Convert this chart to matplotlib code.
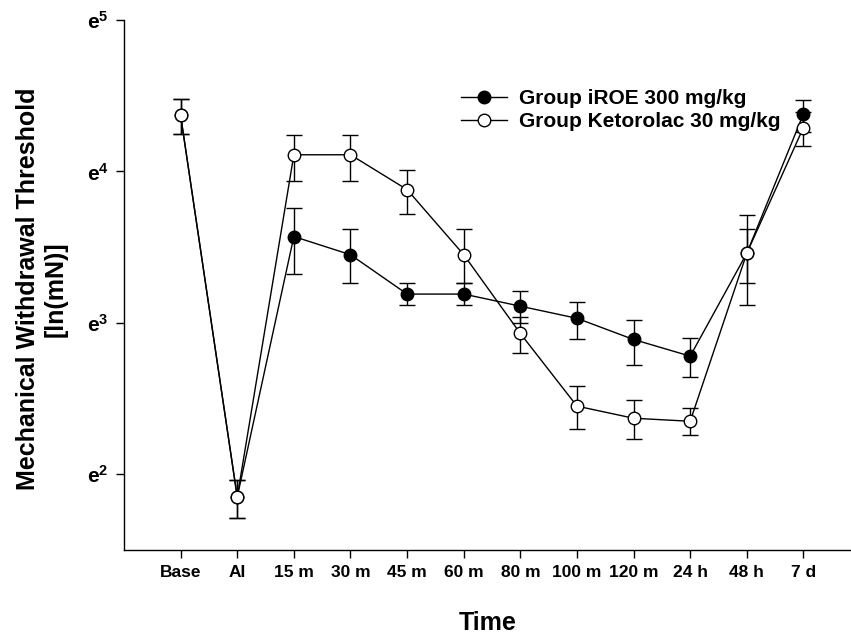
import matplotlib
matplotlib.use("Agg")
import matplotlib.pyplot as plt
import numpy as np

plt.rcParams['font.family'] = 'Liberation Sans'
plt.rcParams['font.weight'] = 'bold'
plt.rcParams['mathtext.fontset'] = 'custom'
plt.rcParams['mathtext.rm'] = 'Liberation Sans:bold'
plt.rcParams['mathtext.bf'] = 'Liberation Sans:bold'

# time points
time_labels = ['Base', 'AI', '15 m', '30 m', '45 m', '60 m', '80 m',
               '100 m', '120 m', '24 h', '48 h', '7 d']
group_names = ['Group iROE 300 mg/kg', 'Group Ketorolac 30 mg/kg']

# values in ln(mN), with upper / lower ends of the error bars
iroe = [4.37, 1.85, 3.57, 3.45, 3.19, 3.19, 3.11, 3.03, 2.89, 2.78, 3.46, 4.38]
iroe_hi = [4.48, 1.96, 3.76, 3.62, 3.26, 3.26, 3.21, 3.14, 3.02, 2.90, 3.71, 4.47]
iroe_lo = [4.25, 1.71, 3.32, 3.26, 3.12, 3.12, 3.00, 2.89, 2.72, 2.64, 3.12, 4.26]

keto = [4.37, 1.85, 4.11, 4.11, 3.88, 3.45, 2.93, 2.45, 2.37, 2.35, 3.46, 4.29]
keto_hi = [4.48, 1.96, 4.24, 4.24, 4.01, 3.62, 3.04, 2.58, 2.49, 2.44, 3.62, 4.39]
keto_lo = [4.25, 1.71, 3.94, 3.94, 3.72, 3.26, 2.80, 2.30, 2.23, 2.26, 3.26, 4.17]

y_ticks = [2, 3, 4, 5]

x = np.arange(len(time_labels))

fig = plt.figure(figsize=(8.51, 6.35), dpi=100)
ax = fig.add_axes([0.1457, 0.1339, 0.8543, 0.8346])

def err(v, hi, lo):
    v = np.array(v)
    return [v - np.array(lo), np.array(hi) - v]

eb1 = ax.errorbar(x, iroe, yerr=err(iroe, iroe_hi, iroe_lo), fmt='-o',
                  color='black', mfc='black', mec='black', ms=9, lw=1.0,
                  elinewidth=1.0, capsize=5.8, capthick=1.0, zorder=3)
eb2 = ax.errorbar(x, keto, yerr=err(keto, keto_hi, keto_lo), fmt='-o',
                  color='black', mfc='white', mec='black', ms=9, lw=1.0,
                  elinewidth=1.0, capsize=5.8, capthick=1.0, zorder=4)

ax.set_xlim(-1, 11.84)
ax.set_ylim(1.5, 5)
ax.set_xticks(x)
ax.set_xticklabels(time_labels, fontsize=12.5, fontweight='bold')
ax.set_yticks(y_ticks)
ax.set_yticklabels([r'$\mathbf{e^{%d}}$' % t for t in y_ticks], fontsize=15)

ax.spines['top'].set_visible(False)
ax.spines['right'].set_visible(False)
ax.spines['left'].set_linewidth(1.0)
ax.spines['bottom'].set_linewidth(1.0)
ax.tick_params(axis='both', direction='out', length=6, width=1.0)
ax.tick_params(axis='x', pad=5)
ax.tick_params(axis='y', pad=5)

ax.set_xlabel('Time', fontsize=18, fontweight='bold', labelpad=22)
fig.text(42 / 851, 1 - 289 / 635, 'Mechanical Withdrawal Threshold\n[ln(mN)]',
         rotation=90, ha='center', va='center', fontsize=18,
         fontweight='bold', linespacing=1.2)

ax.legend([eb1[0], eb2[0]], group_names, loc='upper left',
          bbox_to_anchor=(0.4635, 0.869), frameon=False, fontsize=15,
          handlelength=2.2, handletextpad=0.6, borderpad=0,
          borderaxespad=0, labelspacing=0.17)

fig.savefig('out.png', dpi=100)
